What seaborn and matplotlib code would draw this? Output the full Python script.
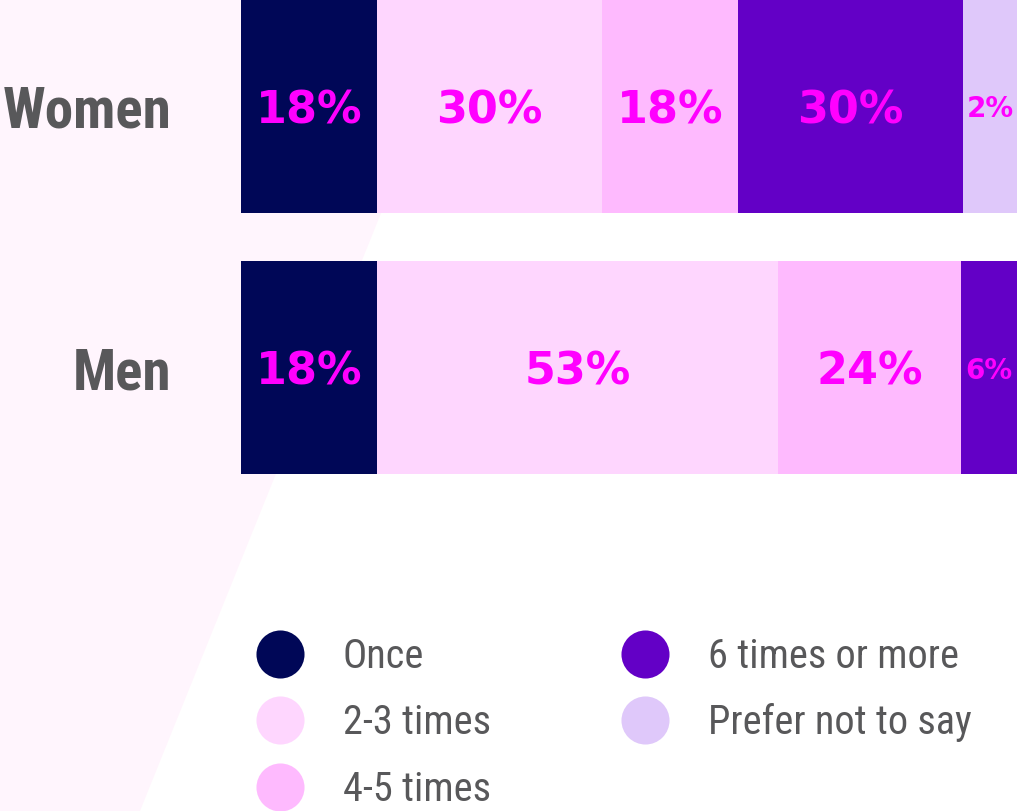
import matplotlib
matplotlib.use("Agg")
import matplotlib.pyplot as plt
import seaborn as sns
import pandas as pd
from matplotlib import font_manager
from matplotlib.patches import Polygon
from matplotlib.lines import Line2D

# ---- data -------------------------------------------------------------
groups = ["Women", "Men"]
categories = ["Once", "2-3 times", "4-5 times", "6 times or more", "Prefer not to say"]
colors = ["#000757", "#FED6FE", "#FEBAFE", "#6300C6", "#DFC8FA"]
women_share = [17.5, 29.0, 17.5, 29.1, 6.9]
men_share = [17.5, 51.7, 23.6, 7.2, 0.0]
women_labels = ["18%", "30%", "18%", "30%", "2%"]
men_labels = ["18%", "53%", "24%", "6%", ""]

# ---- style ------------------------------------------------------------
sns.set_theme(style="white")
names = {f.name for f in font_manager.fontManager.ttflist}


def pick(cands):
    for c in cands:
        if c in names:
            return c
    return "DejaVu Sans"


narrow = pick(["Roboto Condensed", "Liberation Sans Narrow", "DejaVu Sans Condensed", "Roboto"])
plt.rcParams["font.family"] = [narrow, "DejaVu Sans"]

GRAY = "#58585A"
MAGENTA = "#FF00FF"
W, H = 1017, 811

fig = plt.figure(figsize=(W / 100, H / 100), dpi=100)
fig.patch.set_facecolor("white")
bg = Polygon([(0, 1), (467 / W, 1), (140 / W, 0), (0, 0)],
             closed=True, transform=fig.transFigure,
             facecolor="#FFF5FD", edgecolor="none", zorder=-10)
fig.patches.append(bg)

ax = fig.add_axes([241 / W, (H - 474) / H, 776 / W, 474 / H])
ax.patch.set_alpha(0)
ax.set_zorder(1)

# long table
rows = []
for g, shares, labs in [("Women", women_share, women_labels), ("Men", men_share, men_labels)]:
    cum = 0
    for c, s, l in zip(categories, shares, labs):
        cum += s
        rows.append(dict(group=g, category=c, share=s, cum=cum, label=l))
df = pd.DataFrame(rows)

bar_h = 213 / 262
for i in reversed(range(len(categories))):
    sub = df[df["category"] == categories[i]]
    sns.barplot(data=sub, x="cum", y="group", order=groups, orient="h",
                color=colors[i], saturation=1, width=bar_h, ax=ax,
                linewidth=0, errorbar=None)

for _, r in df.iterrows():
    if not r["label"]:
        continue
    yi = groups.index(r["group"])
    small = r["share"] < 10
    ax.text(r["cum"] - r["share"] / 2, yi, r["label"], ha="center", va="center_baseline",
            color=MAGENTA, fontsize=20 if small else 32, fontweight="heavy",
            family="DejaVu Sans")

ax.set_xlim(0, 100)
ax.set_ylim(1 + bar_h / 2, -bar_h / 2)
ax.set_xlabel("")
ax.set_ylabel("")
ax.set_xticks([])
ax.tick_params(axis="y", length=0, pad=50)
for t in ax.get_yticklabels():
    t.set_fontsize(41)
    t.set_fontweight("bold")
    t.set_color(GRAY)
    t.set_verticalalignment("center_baseline")
for s in ax.spines.values():
    s.set_visible(False)

# ---- legend -----------------------------------------------------------
handles = [Line2D([0], [0], marker="o", linestyle="", markersize=34.6,
                  markerfacecolor=c, markeredgewidth=0) for c in colors]
common = dict(frameon=False, fontsize=29, labelcolor=GRAY, handlelength=1.2,
              handletextpad=0.95, labelspacing=0.68, borderpad=0, borderaxespad=0,
              loc="upper left")
fig.legend(handles[:3], categories[:3], bbox_to_anchor=(256 / W, 1 - 637 / H), **common)
fig.legend(handles[3:], categories[3:], bbox_to_anchor=(621 / W, 1 - 637 / H), **common)

fig.savefig("out.png", dpi=100, facecolor="white")
